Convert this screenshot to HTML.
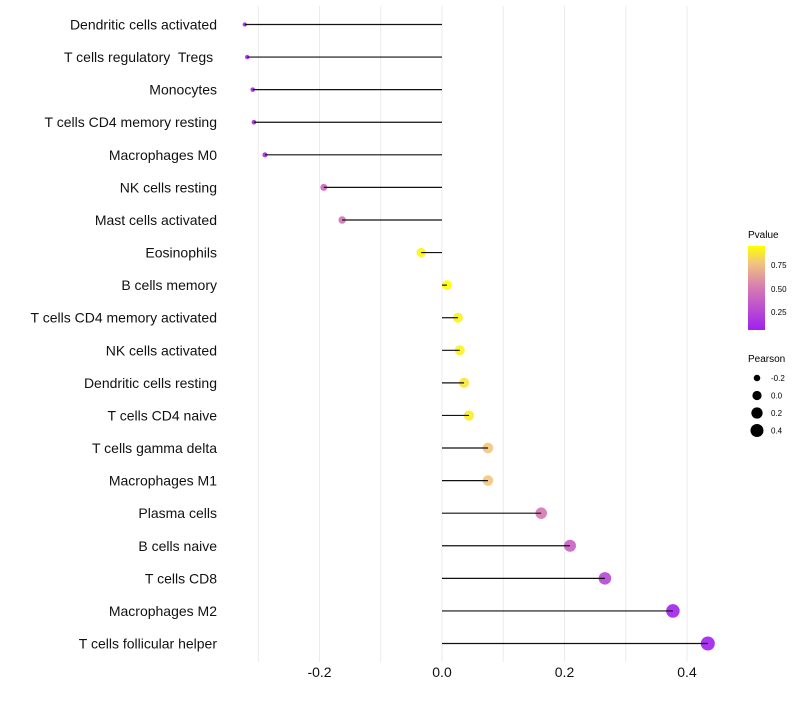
<!DOCTYPE html>
<html><head><meta charset="utf-8"><style>
body{margin:0;background:#fff;font-family:"Liberation Sans",sans-serif}
svg text{font-family:"Liberation Sans",sans-serif;white-space:pre}
</style></head><body>
<svg id="chart" width="800" height="700" xmlns="http://www.w3.org/2000/svg">
<defs><linearGradient id="pg" x1="0" y1="1" x2="0" y2="0">
<stop offset="0" stop-color="#a020f0"/><stop offset="0.5" stop-color="#d67ab2"/><stop offset="0.8" stop-color="#f2c57e"/><stop offset="1" stop-color="#ffff00"/></linearGradient></defs>
<g id="grid"></g>
<g id="marks"></g>
<g id="ylabels"></g>
<g id="xlabels"></g>
<g>
<text x="748" y="238" font-size="10">Pvalue</text>
<rect x="748" y="246" width="17" height="84" fill="url(#pg)"/>
<text x="771" y="268" font-size="8">0.75</text>
<text x="771" y="292" font-size="8">0.50</text>
<text x="771" y="315" font-size="8">0.25</text>
</g>
<g id="sizeleg">
<text x="748" y="362" font-size="10">Pearson</text>
</g>
</svg>
<script>
const categories=["Dendritic cells activated","T cells regulatory  Tregs ","Monocytes","T cells CD4 memory resting","Macrophages M0","NK cells resting","Mast cells activated","Eosinophils","B cells memory","T cells CD4 memory activated","NK cells activated","Dendritic cells resting","T cells CD4 naive","T cells gamma delta","Macrophages M1","Plasma cells","B cells naive","T cells CD8","Macrophages M2","T cells follicular helper"];
const pearson=[-0.322,-0.318,-0.309,-0.307,-0.289,-0.193,-0.163,-0.034,0.008,0.026,0.029,0.036,0.044,0.075,0.075,0.162,0.209,0.266,0.377,0.434];
const pvalue=[0.08,0.09,0.1,0.1,0.12,0.42,0.48,0.93,0.99,0.92,0.92,0.88,0.9,0.78,0.78,0.5,0.38,0.25,0.07,0.06];
const xTicks=[-0.2,0,0.2,0.4];
const xTickLabels=["-0.2","0.0","0.2","0.4"];
const legendSizes=[-0.2,0,0.2,0.4];
const legendLabels=["-0.2","0.0","0.2","0.4"];
const NS="http://www.w3.org/2000/svg";
function X(v){return 442+v*612.5;}
function Y(i){return 24.5+i*(619/19);}
function R(v){return Math.sqrt(Math.max(1,23.6+58.9*v));}
function hex(h){return [1,3,5].map(k=>parseInt(h.substr(k,2),16));}
const stops=[[0,"#a020f0"],[0.5,"#d67ab2"],[0.8,"#f2c57e"],[1,"#ffff00"]];
function col(p){let t=(p-0.06)/0.9;t=Math.max(0,Math.min(1,t));
for(let k=1;k<stops.length;k++){if(t<=stops[k][0]){const a=hex(stops[k-1][1]),b=hex(stops[k][1]);const f=(t-stops[k-1][0])/(stops[k][0]-stops[k-1][0]);return "rgb("+a.map((c,j)=>Math.round(c+(b[j]-c)*f)).join(",")+")";}}return stops[3][1];}
function mk(tag,attrs,parent){const e=document.createElementNS(NS,tag);for(const k in attrs)e.setAttribute(k,attrs[k]);parent.appendChild(e);return e;}
const grid=document.getElementById('grid');
for(let v=-0.3;v<=0.451;v+=0.1){const g=mk('line',{x1:X(v),x2:X(v),y1:6,y2:662,stroke:'#ebebeb','stroke-width':1},grid);

}
const marks=document.getElementById('marks'),yl=document.getElementById('ylabels'),xl=document.getElementById('xlabels');
categories.forEach((c,i)=>{
const p=mk('circle',{cx:X(pearson[i]),cy:Y(i),r:R(pearson[i]),fill:col(pvalue[i]),'fill-opacity':0.9},marks);


const l=mk('line',{x1:X(0),x2:X(pearson[i]),y1:Y(i),y2:Y(i),stroke:'#111','stroke-width':1.2},marks);


const t=mk('text',{x:217,y:Y(i)+5,'font-size':14,'text-anchor':'end',fill:'#111'},yl);t.textContent=c;


});
xTicks.forEach((v,i)=>{const t=mk('text',{x:X(v),y:677,'font-size':14,'text-anchor':'middle',fill:'#111'},xl);t.textContent=xTickLabels[i];

});
const sl=document.getElementById('sizeleg');
legendSizes.forEach((v,i)=>{const y=378+i*17.5;
const c=mk('circle',{cx:757,cy:y,r:R(v)*0.95,fill:'#000'},sl);


const t=mk('text',{x:771,y:y+3,'font-size':8},sl);t.textContent=legendLabels[i];

});
</script>
</body></html>
